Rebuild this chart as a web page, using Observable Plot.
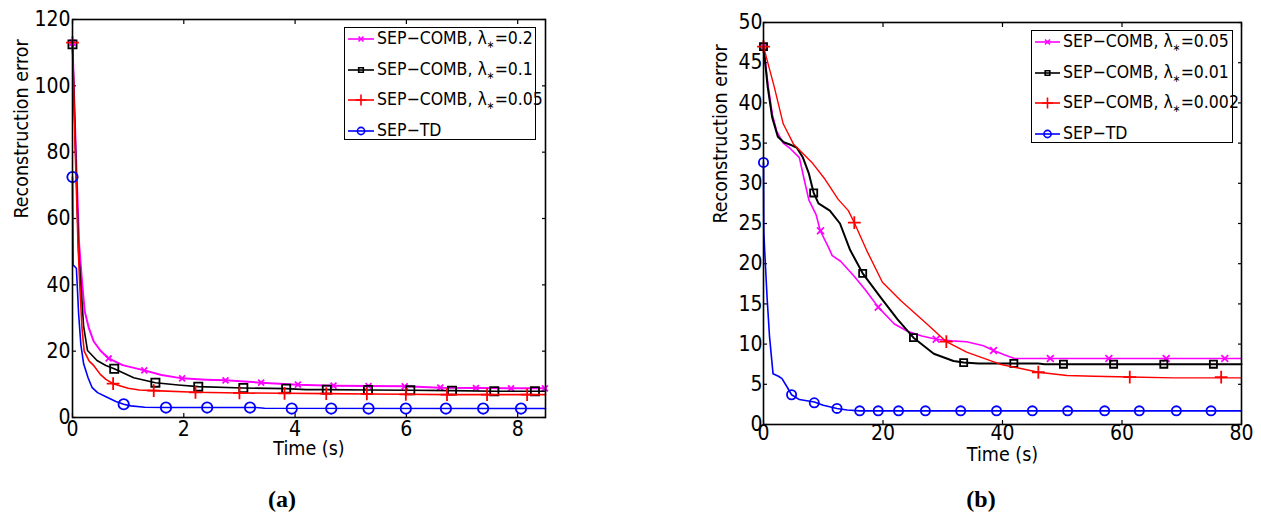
<!DOCTYPE html>
<html><head><meta charset="utf-8">
<script src="https://cdn.jsdelivr.net/npm/d3@7"></script>
<script src="https://cdn.jsdelivr.net/npm/@observablehq/plot@0.6"></script>
<style>
body{margin:0;background:#fff;}
#wrap{position:relative;width:1261px;height:512px;overflow:hidden;background:#fff;font-family:"DejaVu Sans Condensed","DejaVu Sans",sans-serif;}
.panel{position:absolute;top:0;}
.legend{position:absolute;background:#fff;border:1.5px solid #000;box-sizing:border-box;font-size:17.5px;color:#000;}
.row{position:absolute;left:0;height:30px;display:flex;align-items:center;white-space:nowrap;}
.row svg{flex:none;}
.sub{font-size:0.6em;position:relative;top:0.4em;}
.cap{position:absolute;font-family:"Liberation Serif","Times New Roman",serif;font-weight:bold;font-size:24px;line-height:24px;transform:translateX(-50%);}
</style></head><body><div id="wrap"></div>
<script>
// ---------- Panel (a) data ----------
const aXTicks = [0, 2, 4, 6, 8];
const aYTicks = [0, 20, 40, 60, 80, 100, 120];
const aLabels = ["SEP\u2212COMB, \u03bb|=0.2", "SEP\u2212COMB, \u03bb|=0.1", "SEP\u2212COMB, \u03bb|=0.05", "SEP\u2212TD"];

const aMagT = [0,0.06,0.12,0.174,0.22,0.29,0.38,0.5,0.65,0.9,1.29,1.6,1.97,2.4,2.75,3.39,4.05,4.69,5.32,5.97,6.61,7.25,7.88,8.5];
const aMagE = [113,80,52,40.3,32,27.2,23,20.2,17.8,15.8,14.2,12.8,11.8,11.4,11.2,10.5,9.9,9.6,9.5,9.4,9.0,8.9,8.8,8.8];
const aBlkT = [0,0.06,0.11,0.15,0.2,0.27,0.44,0.6,0.75,1.1,1.49,1.9,2.26,3.07,3.84,4.2,4.57,5.31,6.07,6.82,7.58,8.5];
const aBlkE = [112.5,78,50,40,27.5,20.2,17.2,15.7,14.7,12,10.5,9.8,9.3,8.9,8.7,8.4,8.4,8.3,8.2,8.1,7.9,7.9];
const aRedT = [0,0.05,0.1,0.13,0.17,0.21,0.3,0.38,0.5,0.6,0.73,1.0,1.2,1.46,2.21,3.0,3.81,4.56,5.29,5.99,6.73,8.5];
const aRedE = [113,80,52,40,27,20,17,15.7,13,11.5,10.2,8.8,8.3,8.1,7.6,7.4,7.3,7.2,7.1,7.0,6.9,6.9];
const aBluT = [0,0.01,0.07,0.11,0.15,0.2,0.28,0.35,0.45,0.62,0.78,0.92,1.05,1.3,1.68,3.3,3.45,8.5];
const aBluE = [72.5,46,45,31.3,22,16.2,12,9.1,7.5,6.1,4.8,4.0,3.5,3.1,3.0,3.0,2.8,2.7];

const aMagMT = [0,0.65,1.29,1.97,2.75,3.39,4.05,4.69,5.32,5.97,6.61,7.25,7.88,8.49];
const aMagME = [113,17.8,14.2,11.8,11.2,10.5,9.9,9.6,9.5,9.4,9.0,8.9,8.8,8.8];
const aBlkMT = [0,0.75,1.49,2.26,3.07,3.84,4.57,5.31,6.07,6.82,7.58,8.31];
const aBlkME = [112.5,14.7,10.5,9.3,8.9,8.7,8.4,8.3,8.2,8.1,7.9,7.9];
const aRedMT = [0,0.73,1.46,2.21,3.0,3.81,4.56,5.29,5.99,6.73,7.45,8.17];
const aRedME = [113,10.2,8.1,7.6,7.4,7.3,7.2,7.1,7.0,6.9,6.9,6.9];
const aBluMT = [0,0.92,1.68,2.42,3.19,3.94,4.65,5.32,5.99,6.71,7.38,8.06];
const aBluME = [72.5,4.0,3.0,3.0,3.0,2.7,2.7,2.7,2.7,2.7,2.7,2.7];

// ---------- Panel (b) data ----------
const bXTicks = [0, 20, 40, 60, 80];
const bYTicks = [0, 5, 10, 15, 20, 25, 30, 35, 40, 45, 50];
const bLabels = ["SEP\u2212COMB, \u03bb|=0.05", "SEP\u2212COMB, \u03bb|=0.01", "SEP\u2212COMB, \u03bb|=0.002", "SEP\u2212TD"];

const bMagT = [0,0.8,1.5,2.2,3.3,4.5,6.0,6.8,7.6,8.8,9.5,10.9,11.5,12.9,15.1,17,19.2,21.9,24.1,26.5,28.9,31.5,34.0,36.8,38.5,40.5,42,80];
const bMagE = [47,42,38.5,36.5,35,34.3,33.2,30.5,27.9,26.1,24.1,22.0,21.0,20.3,18.5,16.8,14.6,12.5,11.6,11.0,10.6,10.4,10.3,9.8,9.2,8.6,8.2,8.2];
const bBlkT = [0,0.7,1.45,2.4,3.4,4.5,5.6,6.6,7.6,8.4,9.2,11.1,12.8,14.5,16.6,19.6,22.4,25.1,28.5,31.8,33.5,36,39.6,46,47,80];
const bBlkE = [47,42,38.2,35.8,35.1,34.8,34.4,33.2,31.2,28.8,27.5,26.6,25.0,21.7,18.8,15.8,13.1,10.8,8.8,7.9,7.7,7.6,7.6,7.6,7.5,7.5];
const bRedT = [0,1.8,3.3,5.0,8.1,10.3,12.5,14.2,15.2,17.3,19.9,23.0,27.5,30.6,34.0,39.6,46.0,50.8,55.3,61.3,68.7,80];
const bRedE = [47,42.0,37.4,34.9,32.6,30.5,28.0,26.6,25.1,21.6,17.7,15.4,12.4,10.3,9.0,7.5,6.5,6.1,6.0,5.9,5.8,5.8];
const bBluT = [0,0.05,0.2,0.6,1.0,1.6,2.5,3.1,4.0,4.7,6.0,8.5,10,12.3,14,16.1,80];
const bBluE = [32.6,24,21.6,15.8,11,6.3,6.0,5.7,4.6,3.7,3.1,2.8,2.4,2.0,1.8,1.7,1.7];

const bMagMT = [0,9.54,19.2,28.9,38.5,48.0,57.8,67.4,77.2];
const bMagME = [47,24.1,14.6,10.6,9.2,8.2,8.2,8.2,8.2];
const bBlkMT = [0,8.4,16.6,25.1,33.5,41.9,50.2,58.6,67.0,75.3];
const bBlkME = [47,28.8,18.8,10.8,7.7,7.6,7.5,7.5,7.5,7.5];
const bRedMT = [0,15.2,30.6,46.0,61.3,76.6];
const bRedME = [47,25.1,10.3,6.5,5.9,5.9];
const bBluMT = [0,4.7,8.5,12.3,16.1,19.2,22.6,27.1,33.0,39.0,45.0,50.9,57.1,62.9,69.1,74.9];
const bBluME = [32.6,3.7,2.7,2.0,1.7,1.7,1.7,1.7,1.7,1.7,1.7,1.7,1.7,1.7,1.7,1.7];

// ---------- styles ----------
const colors = ["#ff00ff", "#000000", "#ff0000", "#0000ff"];
const symbols = ["times", "square", "plus", "circle"];

const zip = (t, e) => t.map((v, i) => ({t: v, e: e[i]}));

function makePanel(cfg) {
  const marks = [
    Plot.axisX({ticks: cfg.xTicks, anchor: "bottom", tickSize: -4, tickPadding: cfg.xPad, label: null, strokeWidth: 1.2}),
    Plot.axisX({ticks: cfg.xTicks, anchor: "top", tickSize: -4, text: null, label: null, strokeWidth: 1.2}),
    Plot.axisY({ticks: cfg.yTicks, anchor: "left", tickSize: -4, tickPadding: cfg.yPad, label: null, strokeWidth: 1.2}),
    Plot.axisY({ticks: cfg.yTicks, anchor: "right", tickSize: -4, text: null, label: null, strokeWidth: 1.2})
  ];
  cfg.series.forEach((s, i) => {
    marks.push(Plot.line(zip(s.t, s.e), {x: "t", y: "e", stroke: colors[i], strokeWidth: cfg.lw[i]}));
    marks.push(Plot.dot(zip(s.mt, s.me), {x: "t", y: "e", symbol: symbols[i], r: cfg.r[i], stroke: colors[i], fill: "none", strokeWidth: 1.8}));
  });
  marks.push(Plot.frame({stroke: "black", strokeWidth: 1.6}));
  marks.push(Plot.text(["Reconstruction error"], {text: d => d, frameAnchor: "left", dx: cfg.yLabDx, rotate: -90, fontSize: 19.5}));
  marks.push(Plot.text(["Time (s)"], {text: d => d, frameAnchor: "bottom", dy: cfg.xLabDy, fontSize: 19.5}));
  return Plot.plot({
    width: cfg.width, height: cfg.height,
    marginLeft: cfg.ml, marginTop: cfg.mt, marginRight: cfg.mr, marginBottom: cfg.mb,
    x: {domain: cfg.xDomain},
    y: {domain: cfg.yDomain},
    style: {fontFamily: '"DejaVu Sans Condensed","DejaVu Sans",sans-serif', fontSize: "21px", background: "transparent", overflow: "visible", color: "#000"},
    marks
  });
}

function symPath(name, r) {
  const map = {times: d3.symbolTimes, square: d3.symbolSquare, plus: d3.symbolPlus, circle: d3.symbolCircle};
  return d3.symbol(map[name], Math.PI * r * r)();
}

function makeLegend(cfg) {
  const div = document.createElement("div");
  div.className = "legend";
  Object.assign(div.style, {left: cfg.x + "px", top: cfg.y + "px", width: cfg.w + "px", height: cfg.h + "px"});
  cfg.labels.forEach((lab, i) => {
    const row = document.createElement("div");
    row.className = "row";
    row.style.top = (cfg.rowTop + i * cfg.rowStep) + "px";
    row.style.paddingLeft = cfg.padL + "px";
    const parts = lab.split("|");
    const txt = parts.length > 1 ? parts[0] + '<span class="sub">\u2217</span>' + parts[1] : parts[0];
    row.innerHTML = `<svg width="${cfg.sw}" height="30"><line x1="0" x2="${cfg.sw}" y1="16" y2="16" stroke="${colors[i]}" stroke-width="1.6"/><path transform="translate(${cfg.sw/2},16)" d="${symPath(symbols[i], cfg.mr[i])}" fill="none" stroke="${colors[i]}" stroke-width="1.6"/></svg><span style="margin-left:${cfg.gap}px">${txt}</span>`;
    div.appendChild(row);
  });
  return div;
}

const wrap = document.getElementById("wrap");

const pa = makePanel({
  width: 560, height: 470, ml: 72, mt: 19, mr: 15, mb: 53,
  xDomain: [0, 8.5], yDomain: [0, 120], xTicks: aXTicks, yTicks: aYTicks,
  xPad: 8, yPad: 6, yLabDx: -51, xLabDy: 37,
  lw: [2, 1.6, 1.6, 1.6], r: [2.8, 4.6, 4.2, 5.2],
  series: [
    {t: aMagT, e: aMagE, mt: aMagMT, me: aMagME},
    {t: aBlkT, e: aBlkE, mt: aBlkMT, me: aBlkME},
    {t: aRedT, e: aRedE, mt: aRedMT, me: aRedME},
    {t: aBluT, e: aBluE, mt: aBluMT, me: aBluME}
  ]
});
pa.classList.add("panel"); pa.style.left = "0px";
wrap.appendChild(pa);

const pb = makePanel({
  width: 571, height: 470, ml: 73, mt: 22, mr: 20, mb: 46,
  xDomain: [0, 80], yDomain: [0, 50], xTicks: bXTicks, yTicks: bYTicks,
  xPad: 5, yPad: 5, yLabDx: -43, xLabDy: 36,
  lw: [1.6, 2, 1.4, 1.6], r: [3.2, 4.0, 4.2, 4.6],
  series: [
    {t: bMagT, e: bMagE, mt: bMagMT, me: bMagME},
    {t: bBlkT, e: bBlkE, mt: bBlkMT, me: bBlkME},
    {t: bRedT, e: bRedE, mt: bRedMT, me: bRedME},
    {t: bBluT, e: bBluE, mt: bBluMT, me: bBluME}
  ]
});
pb.classList.add("panel"); pb.style.left = "690px";
wrap.appendChild(pb);

wrap.appendChild(makeLegend({x: 344, y: 27, w: 192, h: 113, labels: aLabels, rowTop: -5, rowStep: 30.5, padL: 3, sw: 26, gap: 3, mr: [2.4, 2.6, 3.6, 3.6]}));
wrap.appendChild(makeLegend({x: 1031, y: 30, w: 202, h: 113, labels: bLabels, rowTop: -5, rowStep: 30.5, padL: 3, sw: 25, gap: 3, mr: [2.4, 2.6, 3.6, 3.6]}));

const capA = document.createElement("div"); capA.className = "cap"; capA.textContent = "(a)";
capA.style.left = "282px"; capA.style.top = "487px"; wrap.appendChild(capA);
const capB = document.createElement("div"); capB.className = "cap"; capB.textContent = "(b)";
capB.style.left = "981px"; capB.style.top = "487px"; wrap.appendChild(capB);
</script></body></html>
